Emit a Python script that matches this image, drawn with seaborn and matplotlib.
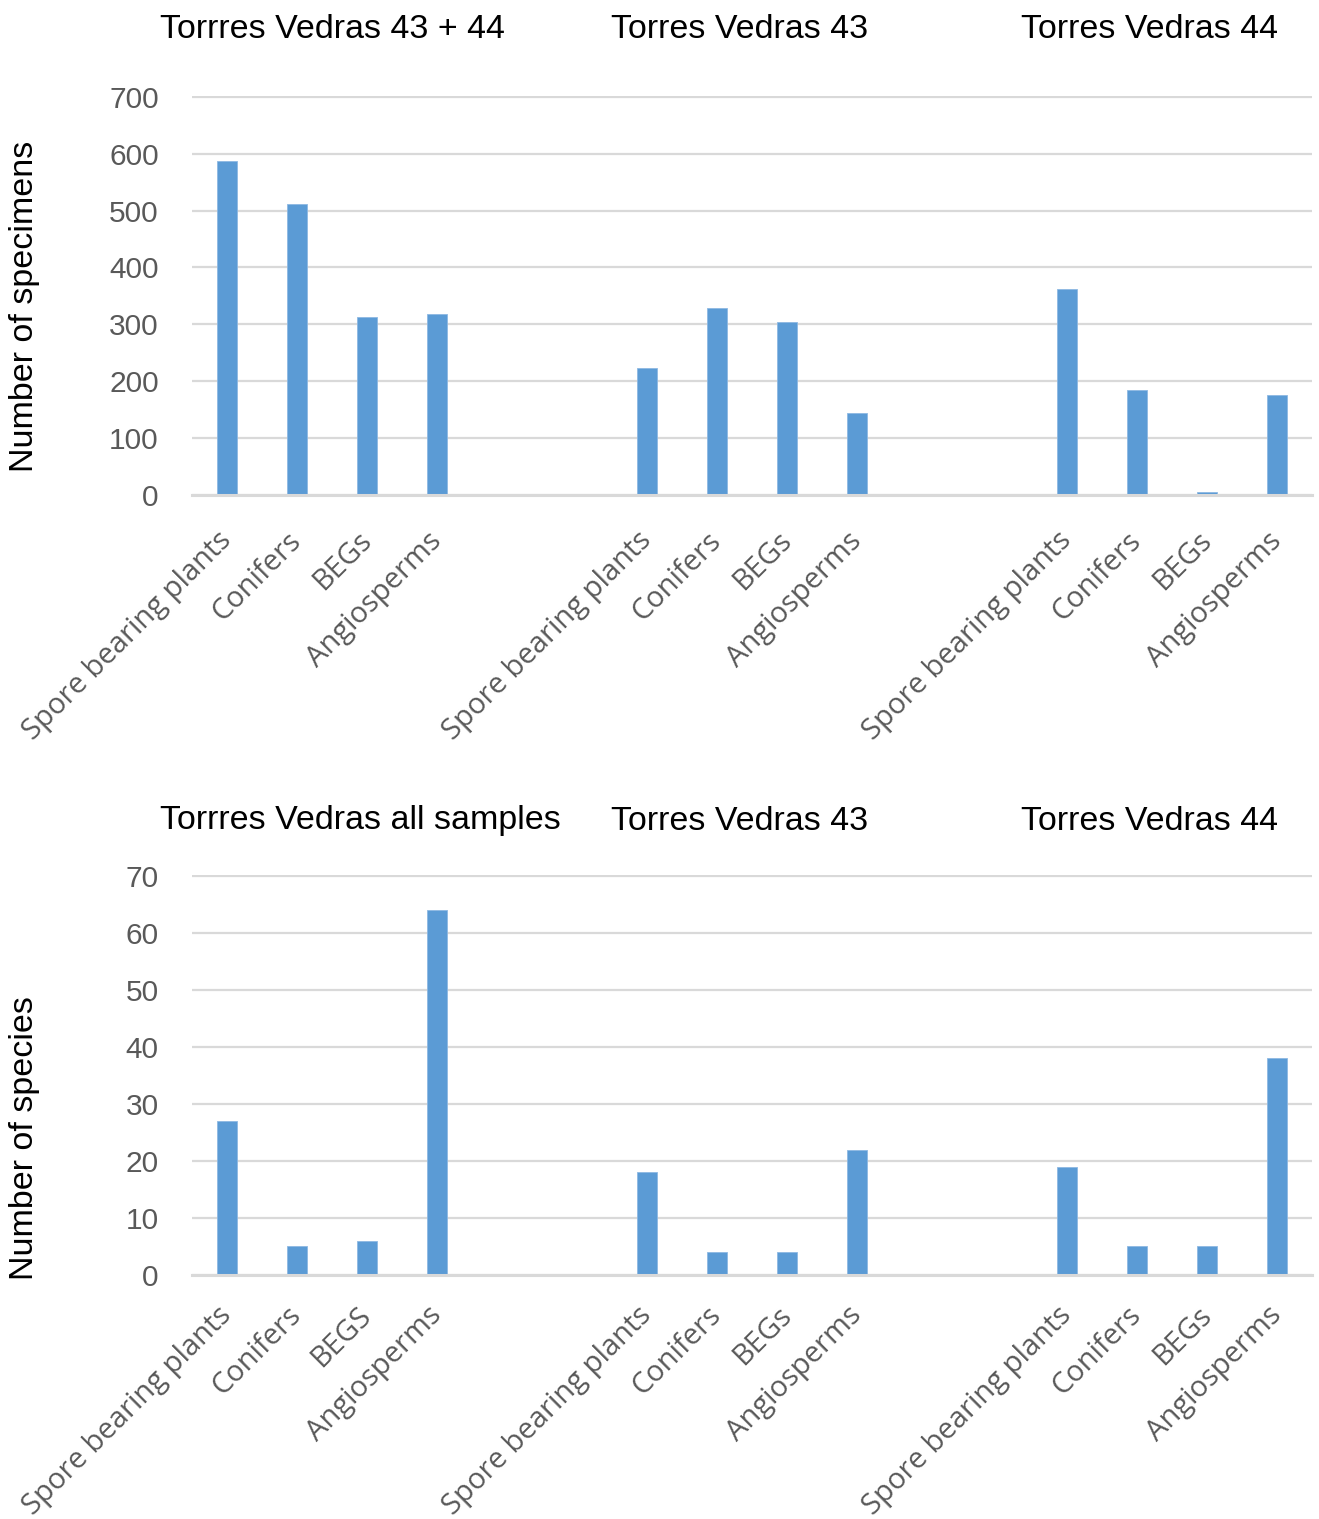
import matplotlib
matplotlib.use("Agg")
import matplotlib.pyplot as plt
import seaborn as sns
import pandas as pd

groups = ["43+44", "43", "44"]
categories = ["Spore bearing plants", "Conifers", "BEGs", "Angiosperms"]
categories_species_all = ["Spore bearing plants", "Conifers", "BEGS", "Angiosperms"]

specimens_all = [587, 512, 313, 318]
specimens_43 = [224, 328, 304, 145]
specimens_44 = [362, 185, 6, 175]

species_all = [27, 5, 6, 64]
species_43 = [18, 4, 4, 22]
species_44 = [19, 5, 5, 38]

top_titles = ["Torrres Vedras 43 + 44", "Torres Vedras 43", "Torres Vedras 44"]
bottom_titles = ["Torrres Vedras all samples", "Torres Vedras 43", "Torres Vedras 44"]
top_ylabel = "Number of specimens"
bottom_ylabel = "Number of species"
top_yticks = [0, 100, 200, 300, 400, 500, 600, 700]
bottom_yticks = [0, 10, 20, 30, 40, 50, 60, 70]

BAR = "#5B9BD5"
GRID = "#D9D9D9"
TICKC = "#595959"

sns.set_theme(style="white")
plt.rcParams['font.family'] = ['Liberation Sans', 'DejaVu Sans']


def build(series, labels_per_group):
    keys, vals, order, ticklabels = [], [], [], []
    for gi, (g, s, labs) in enumerate(zip(groups, series, labels_per_group)):
        for c, v in zip(labs, s):
            k = f"{g}|{c}"
            keys.append(k)
            vals.append(v)
            order.append(k)
            ticklabels.append(c)
        if gi < len(groups) - 1:
            for j in range(2):
                order.append(f"gap{gi}_{j}")
                ticklabels.append("")
    return pd.DataFrame({"key": keys, "value": vals}), order, ticklabels


fig = plt.figure(figsize=(13.19, 15.19), dpi=100)
ax1 = fig.add_axes([192 / 1319, 1 - 495 / 1519, 1120 / 1319, 399 / 1519])
ax2 = fig.add_axes([192 / 1319, 1 - 1275 / 1519, 1120 / 1319, 400 / 1519])

panels = [
    (ax1, [specimens_all, specimens_43, specimens_44], [categories, categories, categories],
     top_yticks, top_ylabel, 30),
    (ax2, [species_all, species_43, species_44], [categories_species_all, categories, categories],
     bottom_yticks, bottom_ylabel, 26),
]

for ax, series, labs, yticks, ylab, xpad in panels:
    df, order, ticklabels = build(series, labs)
    sns.barplot(data=df, x="key", y="value", order=order, color=BAR, width=0.29,
                saturation=1, ax=ax, edgecolor="#8DB8E2", linewidth=0.6)
    ax.set_xlim(-0.5, len(order) - 0.5)
    ax.set_ylim(0, yticks[-1] * 1.002)
    ax.set_yticks(yticks)
    ax.set_yticklabels([str(t) for t in yticks], fontsize=21.5, color=TICKC,
                       family=['Liberation Sans', 'DejaVu Sans'])
    ax.set_xticks(range(len(order)))
    ax.set_xticklabels(ticklabels, rotation=45, ha="right", va="center",
                       rotation_mode="anchor", fontsize=21, color=TICKC,
                       family=['Open Sans', 'DejaVu Sans'])
    ax.tick_params(axis="both", length=0)
    ax.tick_params(axis="y", pad=24)
    ax.tick_params(axis="x", pad=xpad)
    ax.set_xlabel("")
    ax.set_ylabel("")
    for sp in ["top", "right", "left"]:
        ax.spines[sp].set_visible(False)
    ax.spines["bottom"].set_color(GRID)
    ax.spines["bottom"].set_linewidth(2.2)
    ax.yaxis.grid(True, color=GRID, linewidth=1.6)
    ax.set_axisbelow(True)

title_x = [160 / 1319, 611 / 1319, 1021 / 1319]
for x, t in zip(title_x, top_titles):
    fig.text(x, 1 - 30 / 1519, t, fontsize=24.5, color="black", ha="left", va="center")
for x, t in zip(title_x, bottom_titles):
    fig.text(x, 1 - 821 / 1519, t, fontsize=24.5, color="black", ha="left", va="center")

fig.text(25 / 1319, 1 - 306 / 1519, top_ylabel, rotation=90, fontsize=24.5,
         ha="center", va="center", color="black")
fig.text(25 / 1319, 1 - 1138 / 1519, bottom_ylabel, rotation=90, fontsize=24.5,
         ha="center", va="center", color="black")

fig.savefig("out.png", dpi=100, facecolor="white")
